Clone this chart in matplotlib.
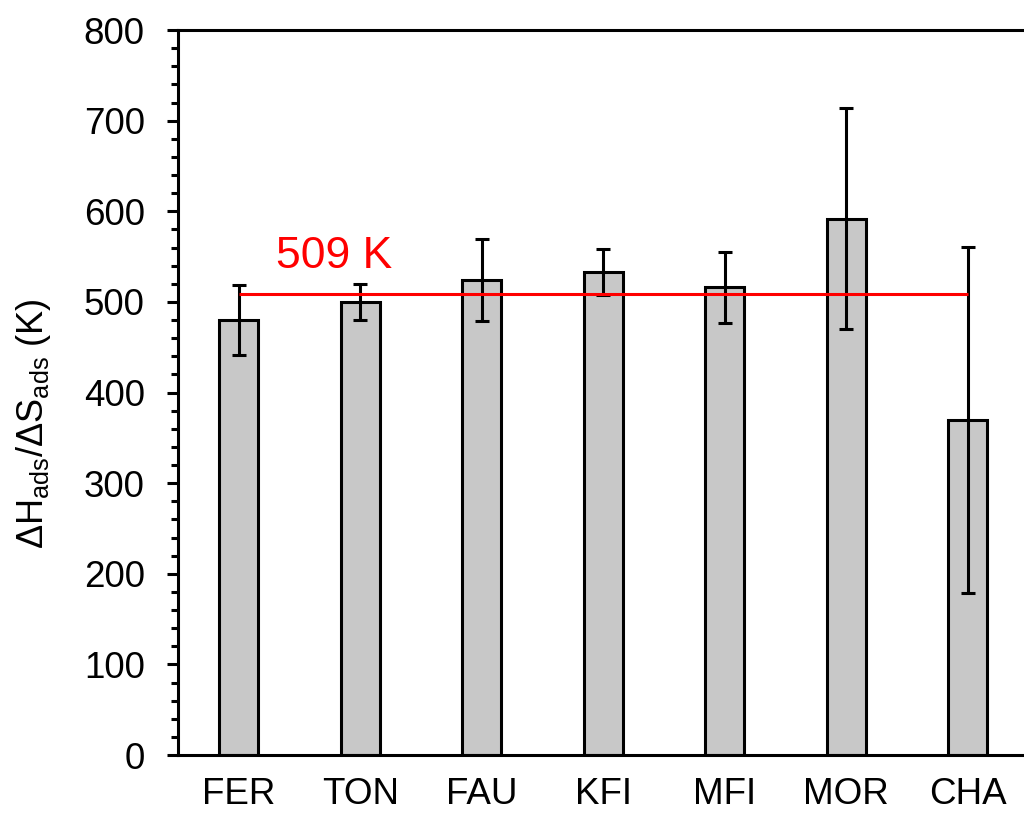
import numpy as np
import matplotlib
matplotlib.use("Agg")
import matplotlib.pyplot as plt
from matplotlib.ticker import MultipleLocator

plt.rcParams['font.family'] = ['Liberation Sans', 'DejaVu Sans']
plt.rcParams['mathtext.fontset'] = 'custom'
plt.rcParams['mathtext.rm'] = 'Liberation Sans'
plt.rcParams['mathtext.it'] = 'Liberation Sans'

frameworks = ['FER', 'TON', 'FAU', 'KFI', 'MFI', 'MOR', 'CHA']
ratio = [480, 500, 524, 533, 516, 592, 370]
err = [39, 20, 45, 25, 39, 122, 191]
mean_line = 509

fig = plt.figure(figsize=(10.24, 8.18), dpi=100)
ax = fig.add_axes([0.1738, 0.077, 0.8306, 0.8863])

x = np.arange(len(frameworks))
ax.bar(x, ratio, width=0.32, color='#c8c8c8', edgecolor='black', linewidth=2.2, zorder=2)
ax.errorbar(x, ratio, yerr=err, fmt='none', ecolor='black', elinewidth=2.2,
            capsize=5, capthick=2.2, zorder=3)
ax.hlines(mean_line, 0, len(frameworks) - 1, color='red', linewidth=2.2, zorder=4)
ax.text(0.31, 537, '509 K', color='red', fontsize=32, ha='left', va='baseline')

ax.set_xlim(-0.5, len(frameworks) - 0.5)
ax.set_ylim(0, 800)
ax.yaxis.set_major_locator(MultipleLocator(100))
ax.yaxis.set_minor_locator(MultipleLocator(20))
ax.set_xticks(x)
ax.set_xticklabels(frameworks)
ax.tick_params(axis='x', length=0, pad=16, labelsize=26.5)
ax.tick_params(axis='y', which='major', length=8, width=2.2, direction='out', labelsize=26.5, pad=16)
ax.tick_params(axis='y', which='minor', length=5, width=2.2, direction='out')

for s in ['left', 'bottom', 'top']:
    ax.spines[s].set_linewidth(2.2)
ax.spines['right'].set_visible(False)

ax.set_ylabel(r'$\mathregular{\Delta H_{ads}/\Delta S_{ads}}$ (K)', fontsize=26)
ax.yaxis.set_label_coords(-0.147, 0.457)

fig.savefig('out.png', dpi=100)
